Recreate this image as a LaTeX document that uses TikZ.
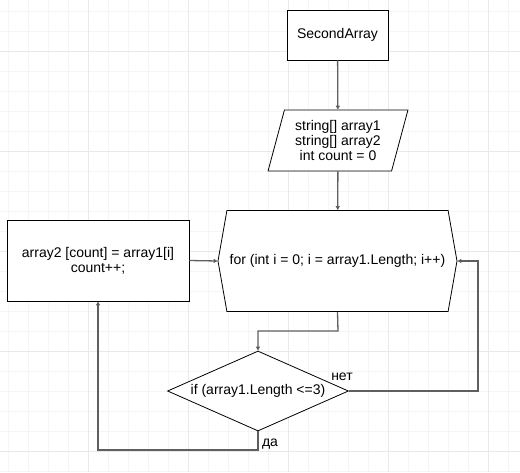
\documentclass[tikz,border=0pt]{standalone}
\usepackage{fontspec}
\setmainfont{Liberation Sans}
\usetikzlibrary{shapes.geometric,shapes.symbols,arrows.meta}
\definecolor{gridthin}{RGB}{245,245,245}
\definecolor{gridthick}{RGB}{233,233,233}
\definecolor{linegray}{RGB}{95,95,95}

\begin{document}
\begin{tikzpicture}[x=1pt,y=-1pt,
    font=\fontsize{14}{15}\selectfont,
    block/.style={draw, line width=0.8pt, fill=white, align=center, inner sep=0pt},
    flow/.style={draw=linegray, line width=1.3pt, -{Triangle[length=4pt,width=4pt]}},
    line/.style={draw=linegray, line width=1.3pt}]
    \useasboundingbox (0,0) rectangle (520,472);

    % Raster im Hintergrund
    \foreach \gx in {8,28,...,508} \draw[gridthin, line width=1pt] (\gx,0) -- (\gx,472);
    \foreach \gy in {11,31,...,471} \draw[gridthin, line width=1pt] (0,\gy) -- (520,\gy);
    \foreach \gx in {88,188,...,488} \draw[gridthick, line width=1pt] (\gx,0) -- (\gx,472);
    \foreach \gy in {51,151,...,451} \draw[gridthick, line width=1pt] (0,\gy) -- (520,\gy);

    % Start
    \node[block, rectangle, minimum width=101pt, minimum height=50pt] (start) at (337.5,35) {SecondArray};

    % Eingabe der Variablen
    \node[block, trapezium, trapezium left angle=72, trapezium right angle=108,
        trapezium stretches=true, minimum width=140pt, minimum height=61pt] (init) at (338,140.5)
        {string[] array1\\string[] array2\\int count = 0};

    % Schleife
    \node[block, signal, signal to=west and east, signal pointer angle=160,
        minimum width=239pt, minimum height=101pt] (loop) at (337.5,261)
        {for (int i = 0; i = array1.Length; i++)};

    % Zuweisung
    \node[block, rectangle, minimum width=182pt, minimum height=81pt] (assign) at (98,260.5)
        {array2 [count] = array1[i]\\count++;};

    % Bedingung
    \node[block, diamond, aspect=2.26, minimum width=181pt, minimum height=80pt] (check) at (258,391)
        {if (array1.Length <=3)};

    % Hilfspunkte
    \coordinate (loopdown) at (338,331);
    \coordinate (noright) at (478,391);
    \coordinate (yesdown) at (258,450);

    % Verbindungen
    \draw[flow] (start) -- (init);
    \draw[flow] (init) -- (loop);
    \draw[flow] (assign.east) -- (loop.west);
    \draw[flow] (loop.south) -- (loopdown) -| (check.north);
    \draw[flow] (check.east) -- (noright) |- (loop.east);
    \draw[flow] (check.south) -- (yesdown) -| (assign.south);

    % Beschriftungen
    \node (nolabel) at (342,377) {нет};
    \node (yeslabel) at (270,444) {да};
\end{tikzpicture}
\end{document}
